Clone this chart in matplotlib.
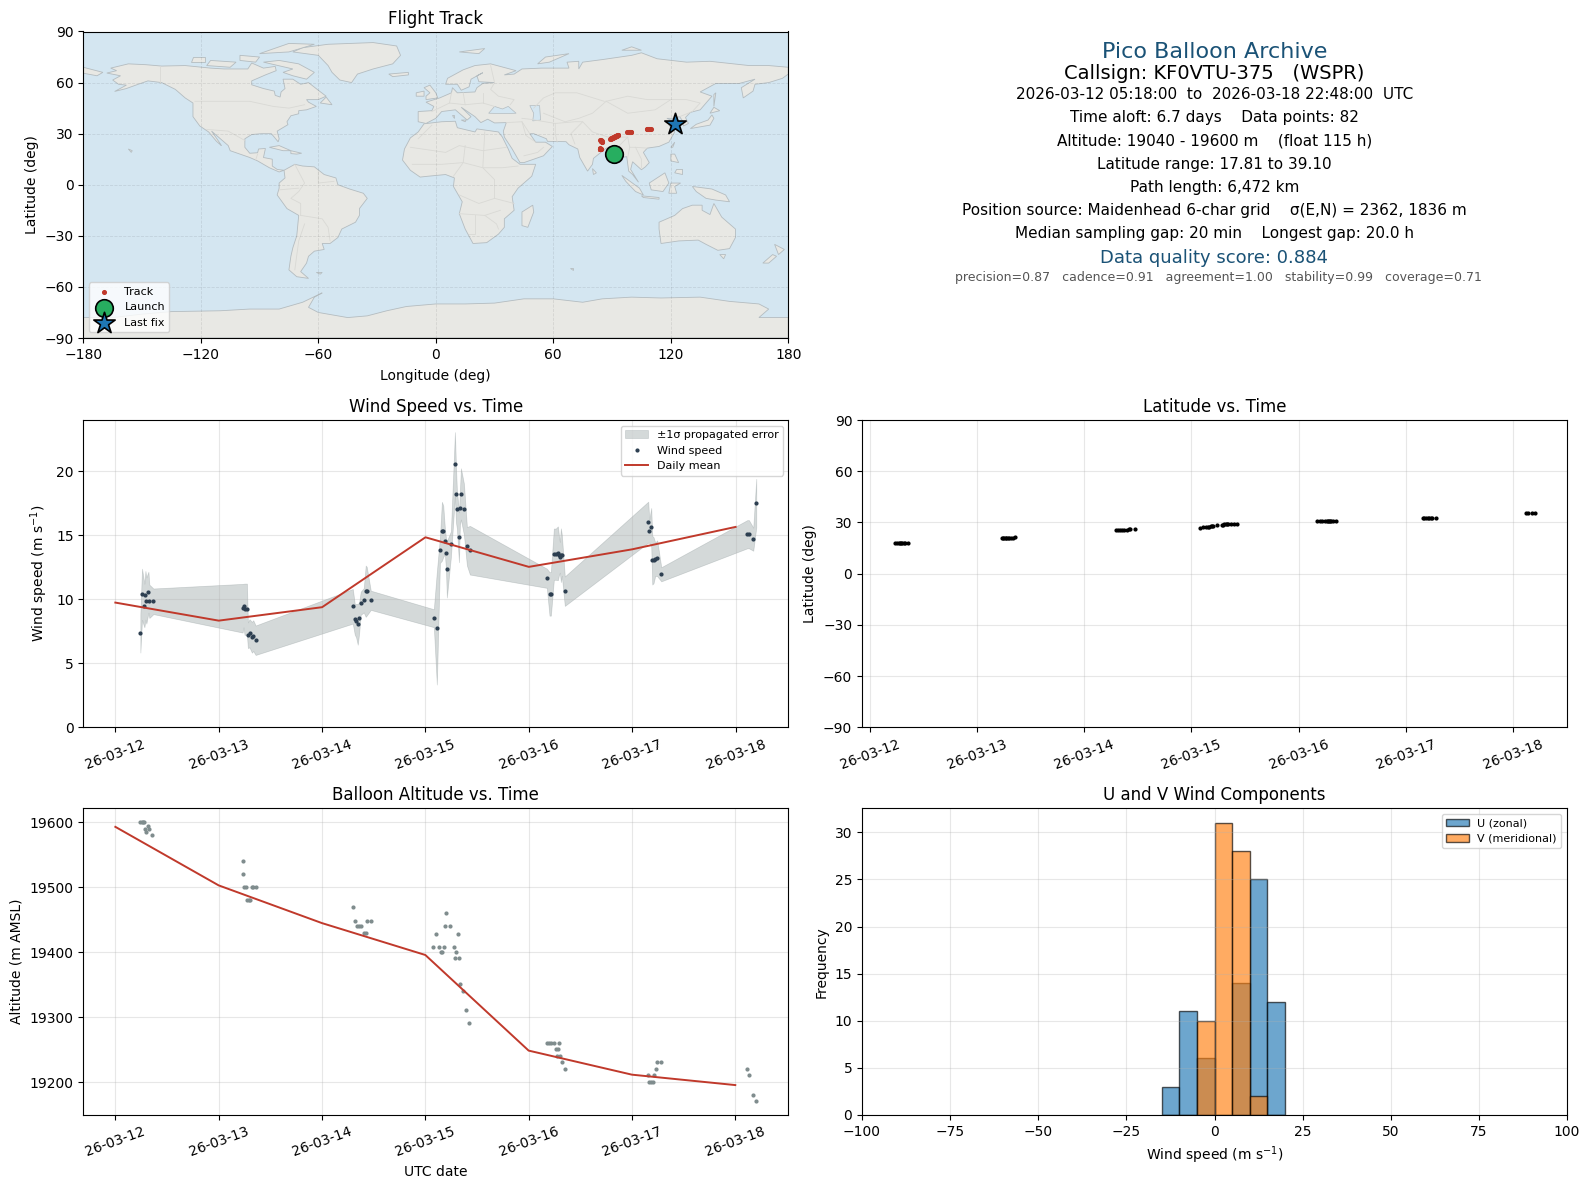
#!/usr/bin/env python
import datetime as dt
import matplotlib
matplotlib.use('Agg')
import matplotlib.pyplot as plt
import matplotlib.dates as mdates

# colours
navy = '#1a5276'
red = '#c0392b'
land_col = '#e8e8e4'
sea_col = '#d4e6f1'

# wind, days after 2026-03-12 00:00
wind_t = [.242,.258,.281,.291,.300,.320,.329,.368,
          1.231,1.240,1.250,1.273,1.282,1.298,1.321,1.334,1.357,
          2.297,2.316,2.329,2.345,2.358,2.374,2.403,2.422,2.432,2.471,
          3.081,3.110,3.140,3.159,3.172,3.188,3.198,3.207,3.246,3.285,3.295,3.304,3.324,3.333,3.343,3.372,3.401,3.430,
          4.174,4.200,4.213,4.242,4.261,4.281,4.290,4.300,4.310,4.319,4.348,
          5.155,5.165,5.184,5.194,5.206,5.223,5.242,5.281,
          6.113,6.129,6.171,6.200]
wind_speed = [7.34,10.39,9.51,10.31,9.90,10.55,9.84,9.84,
              9.30,9.51,9.22,9.22,7.19,7.34,7.03,7.16,6.80,
              9.45,8.44,8.33,8.05,8.52,9.69,9.92,10.63,10.63,9.92,
              8.52,7.74,13.83,15.31,15.31,14.53,13.59,12.34,14.30,20.55,18.20,17.03,14.84,17.11,18.23,17.03,14.14,13.83,
              11.64,10.42,10.42,13.52,13.52,13.59,13.44,13.28,13.44,13.44,10.63,
              16.02,15.31,15.63,13.05,13.05,13.13,13.20,11.95,
              15.08,15.08,14.69,17.50]
wind_sigma = [1.5,2.0,1.7,1.9,1.8,1.6,1.3,1.0,
              1.9,1.7,2.0,2.0,1.0,1.1,1.2,1.2,1.15,
              1.35,1.2,1.3,1.6,1.2,.9,.95,2.0,1.9,.75,
              .7,4.4,1.0,2.3,2.0,1.0,1.2,2.2,1.0,2.5,2.2,1.5,1.95,1.3,2.0,2.0,1.5,1.9,
              .75,1.7,1.7,2.0,2.0,2.1,1.6,1.2,2.1,1.6,1.15,
              1.6,.9,1.5,1.9,1.8,1.3,1.4,.55,
              1.1,1.1,.9,1.9]

day_t = [0,1,2,3,4,5,6]
wind_daily = [9.74,8.33,9.38,14.84,12.53,13.90,15.65]
alt_daily = [19593,19503,19445,19396,19249,19212,19196]

# altitude / position fixes
fix_t = [.242,.258,.271,.281,.291,.300,.320,.329,.358,
         1.231,1.240,1.250,1.269,1.273,1.289,1.302,1.318,1.337,1.357,
         2.297,2.316,2.335,2.355,2.374,2.403,2.422,2.432,2.471,
         3.078,3.107,3.136,3.155,3.165,3.184,3.194,3.203,3.242,3.281,3.291,3.300,3.320,3.329,3.339,3.368,3.397,3.426,
         4.174,4.194,4.213,4.242,4.262,4.271,4.281,4.291,4.300,4.320,4.349,
         5.155,5.165,5.184,5.203,5.213,5.233,5.242,5.281,
         6.116,6.136,6.174,6.203]
alt = [19600,19600,19600,19600,19589,19585,19595,19589,19580,
       19540,19520,19500,19500,19480,19480,19480,19500,19500,19500,
       19469,19449,19440,19440,19440,19430,19430,19449,19449,
       19409,19429,19409,19400,19400,19409,19440,19460,19440,19409,19391,19400,19429,19391,19351,19340,19311,19291,
       19260,19260,19260,19260,19251,19240,19251,19260,19240,19231,19220,
       19211,19200,19200,19200,19211,19220,19231,19231,
       19220,19211,19180,19172]
lat = [17.8,17.8,17.8,17.8,17.8,17.8,17.9,17.9,17.9,
       20.8,20.8,20.8,20.8,20.8,20.9,20.9,21.0,21.1,21.5,
       25.3,25.3,25.4,25.5,25.6,25.8,25.9,26.0,26.1,
       27.0,27.1,27.3,27.5,27.6,27.7,28.0,28.1,28.3,28.5,28.7,28.8,28.8,28.9,29.0,29.0,29.0,29.0,
       30.8,30.8,30.8,30.8,30.8,30.8,30.8,30.8,30.8,30.8,30.8,
       32.6,32.6,32.6,32.6,32.6,32.6,32.6,32.6,
       35.5,35.5,35.5,35.5]
lon = [90.8,90.6,90.4,90.2,90.0,89.8,89.5,89.2,89.0,
       84.4,84.2,84.1,84.0,83.9,83.9,83.8,83.8,83.7,83.6,
       85.0,84.9,84.7,84.6,84.5,84.4,84.3,84.2,84.1,
       89.2,89.4,89.7,90.0,90.2,90.4,90.7,91.0,91.3,91.6,91.8,92.0,92.2,92.4,92.6,92.8,93.0,93.2,
       97.8,98.0,98.2,98.4,98.6,98.8,99.0,99.2,99.4,99.6,99.8,
       107.6,107.9,108.2,108.5,108.8,109.1,109.4,109.7,
       121.5,121.9,122.2,122.4]
launch_lon, launch_lat = [90.8], [17.8]
last_lon, last_lat = [122.2], [35.7]

# histogram
bin_left = [-15,-10,-5,0,5,10,15]
u_count = [3,11,6,0,14,25,12]
v_count = [0,0,10,31,28,2,0]

# coastlines
north_america = [(-168,65.6),(-163,67),(-166,68.5),(-157,71),(-148,70.5),(-140,69.7),(-128,70),(-115,68.5),(-108,68),(-96,68),(-94,71.5),(-88,68.5),(-82,69.5),(-81.5,67),(-87,64.5),(-94,61),(-94,58.7),(-88,56.5),(-82.5,55),(-82,52.5),(-79.5,51.5),(-79,54.5),(-77,56.5),(-78,62),(-73,62),(-69,59),(-65,60),(-60,55.5),(-56,52),(-60,50),(-66,50),(-65,48.5),(-61,46),(-66,44),(-70,43.5),(-70,41.7),(-74,40.5),(-76,37),(-75.5,35.3),(-81,31.5),(-80,27),(-80.5,25.2),(-82.5,28),(-84,30),(-89,30),(-94,29.5),(-97.5,27),(-97.5,22),(-95,18.5),(-91,18.8),(-90.5,21),(-87,21.3),(-88,16),(-83.5,15),(-83.5,11),(-81,9),(-77.5,8.5),(-80,7.5),(-85,10),(-91,14),(-95,16),(-105,20),(-106,23),(-112.5,29.5),(-114.5,31.5),(-110,24),(-109.5,23),(-112,25.5),(-116,31),(-120.5,34.5),(-124,40),(-124,48),(-128,51),(-133,56),(-140,60),(-147,61),(-152,59),(-158,56.5),(-164,54.8),(-158,58.5),(-162,59),(-165,61.5),(-161,64),(-168,65.6)]
south_america = [(-77.5,8.5),(-72,12),(-68,11),(-62,10.5),(-57,6),(-51,4),(-50,0),(-44,-2.5),(-37,-5),(-35,-8),(-39,-14),(-39,-18),(-41,-22),(-48,-26),(-50,-31),(-54,-34.5),(-58,-34.5),(-57,-38),(-62,-39),(-65,-42),(-66,-46),(-69,-51),(-65,-55),(-71,-54),(-75,-50),(-74,-42),(-73,-37),(-71,-30),(-70,-18),(-76,-14),(-81,-6),(-80,-2),(-80,1),(-77,4),(-77.5,8.5)]
greenland = [(-73,78),(-68,80.5),(-55,82.5),(-32,83.5),(-20,81.5),(-18,76),(-22,71),(-32,68),(-40,65),(-43,60),(-49,61.5),(-53,66),(-55,70),(-60,76),(-73,78)]
africa = [(-6,35.8),(3,37),(10,37.3),(11,33.5),(20,31),(21,32.8),(32,31),(34,28),(37,21),(39,15.5),(43,12),(51,12),(49,5),(42,-2),(39,-7),(40,-15),(35,-20),(35,-25),(32,-29),(26,-34),(19,-34.5),(15,-26),(12,-17),(13.5,-10),(9,-1),(9.5,4),(5,6),(-4,5),(-8,4.5),(-13,8.5),(-17,14.5),(-16,21),(-13,27.5),(-9,31),(-6,35.8)]
eurasia = [(-9,37),(-9,43),(-2,43.5),(-1,46),(-5,48.5),(2,51),(8,54),(8.5,57),(11,54),(20,54.5),(21,57),(24,59.5),(30,60),(22,60.5),(21,64),(24,65.8),(18,62),(17,57.5),(13,55.5),(11,59),(5,59),(6,62.5),(14,67.5),(20,70),(28,71),(41,67),(35,64.5),(40,65),(44,68),(54,68.5),(68,68.5),(67,72),(73,72.5),(73,68),(75,72),(85,73.5),(100,76),(105,77.5),(113,74),(128,72),(140,72.5),(160,70),(170,70),(180,69),(180,65),(177,62.5),(170,60),(163,59),(162,55),(157,51),(156,57),(163,62),(155,59.5),(143,59.5),(135,54.5),(141,52),(135,44),(130,42.5),(127.5,39.5),(129,36),(126.5,34.5),(126,37.5),(124.5,40),(121.5,39),(118,39),(122,37),(119,35),(122,31),(119,25),(114,22.5),(108,21.5),(106,19),(109,13),(107,10.5),(105,8.8),(100.5,13.5),(99.5,9),(103.5,1.5),(100.5,6),(98.5,8),(97.5,16.5),(94.5,16),(94,19),(91,22.5),(87,21.5),(80.5,15.5),(80,12),(77.5,8),(73.5,16),(72.5,21),(68,23.5),(66.5,25.3),(57,25.5),(56.5,27),(50,30),(48,30),(51,25),(56,25),(59.5,22.5),(55,17),(45,13),(43,13),(39,21),(35,28),(34.5,31.5),(36,36.5),(30,36.3),(26.5,38.5),(23,36.5),(20,40),(13,45.5),(18,40),(16,38),(10,44),(3,43),(0,39),(-5,36),(-9,37)]
australia = [(114,-22),(122,-18),(126,-14),(131,-12),(136,-12),(136,-15),(140,-17.5),(142,-11),(146,-19),(153,-26),(153,-31),(150,-37.5),(144,-38.5),(138,-35),(134,-32.5),(124,-33),(115,-34.5),(114,-26),(114,-22)]
antarctica = [(-180,-78),(-165,-78),(-150,-76),(-135,-74.5),(-110,-74),(-95,-73),(-80,-73),(-68,-69),(-58,-63.5),(-62,-66),(-65,-72),(-60,-75),(-45,-78),(-35,-77),(-25,-74),(-15,-71.5),(0,-70),(15,-70),(30,-69.5),(45,-67),(60,-67),(75,-69),(85,-67),(100,-66),(115,-66.5),(135,-66),(150,-68.5),(165,-70),(170,-73),(165,-78),(180,-78),(180,-90),(-180,-90)]
islands = [
    [(44,-16),(49.5,-12),(50,-16),(47,-25),(44,-24)],
    [(-5,50),(1,51),(0,54),(-3,58.5),(-6,57),(-3,54),(-5,52)],
    [(-10,52),(-6,52),(-6,55),(-10,54)],
    [(-24,65),(-14,66),(-14,64.5),(-22,63.5)],
    [(12,78),(25,80),(22,77)],
    [(52,71),(56,75),(68,77),(58,72)],
    [(95,79),(105,79),(100,81)],
    [(130,33),(135,34),(140,35),(142,39),(141,41),(139,38),(133,35.5)],
    [(140,42),(145,43.5),(142,45.5)],
    [(142,46),(143,54),(142,53)],
    [(120,22),(122,25),(121,22)],
    [(120,18),(122,18),(124,13),(120,14)],
    [(122,7),(126,6),(126,9),(123,9)],
    [(95,5.5),(104,-2),(106,-6),(102,-4),(97,2)],
    [(105,-6.5),(114,-7.5),(114,-8.5),(106,-7.5)],
    [(109,1),(117,7),(119,1),(116,-4),(110,-3)],
    [(119,-5),(120,1),(125,1),(122,-1),(123,-5)],
    [(131,-1),(141,-2.5),(148,-6),(150,-10),(143,-9),(138,-8),(133,-4)],
    [(80,9.5),(82,7),(80.5,6)],
    [(173,-35),(178,-38),(175,-41),(174,-38)],
    [(172,-41),(174,-42),(170,-46),(167,-46)],
    [(145,-41),(148,-41),(147,-43.5)],
    [(-85,22),(-80,23),(-74,20),(-78,20)],
    [(-74,20),(-68.5,18.5),(-71,18),(-74,18.3)],
    [(-59,48),(-56,51.5),(-53,47)],
    [(-80,73),(-70,71),(-62,66),(-66,62),(-73,64),(-78,66),(-73,68),(-88,72)],
    [(-117,70),(-105,69),(-102,72),(-115,73)],
    [(-90,77),(-75,83),(-62,82.5),(-75,78)],
    [(-125,72),(-118,72),(-118,75),(-124,75)],
    [(-100,73),(-92,72),(-90,75),(-100,76)],
    [(-180,69),(-170,66),(-173,64),(-180,65.5)],
    [(68.5,-49),(70,-49),(70,-50)],
    [(-61,-51.5),(-58,-51.5),(-59,-52.5)],
    [(-157,21),(-155,20),(-155.5,19)],
    [(13,38),(15.5,38),(15,37)],
    [(8.5,41),(9.5,41),(9.5,39)],
]
inland_water = [
    [(27,42),(30,46),(34,44.5),(37,46),(41,42),(35,41.8)],
    [(48,46.5),(53,46.5),(53.5,38),(49.5,37.5),(50,42)],
]
borders = [
    [(-141,70),(-141,60)],
    [(-123,49),(-95,49),(-83,46),(-75,45),(-67,47)],
    [(-117,32.5),(-106,31.5),(-97.5,26)],
    [(-92,14.5),(-91,18)],
    [(-72,12),(-67,1),(-70,-4),(-74,-8),(-69,-11),(-69,-18)],
    [(-60,8),(-60,1),(-52,2)],
    [(-69,-18),(-58,-20),(-55,-25),(-54,-33)],
    [(-67,-23),(-70,-33),(-72,-50)],
    [(-80,-3),(-70,-2)],
    [(-9,27),(-2,35)],
    [(-13,22),(5,19),(12,23),(24,20),(36,22)],
    [(25,31),(24,10),(30,3),(30,-8),(22,-11),(12,-6)],
    [(-12,12),(3,12),(14,13),(24,10),(34,10),(42,11)],
    [(9,5),(14,13),(15,23)],
    [(30,-8),(40,-11)],
    [(12,-17),(25,-18),(33,-15)],
    [(20,-18),(20,-29),(17,-29)],
    [(25,-18),(31,-23),(32,-26)],
    [(-2,43),(7,48),(8,54)],
    [(7,48),(15,47),(24,48),(30,46)],
    [(14,54),(15,47)],
    [(24,54),(24,48)],
    [(28,70),(30,60),(28,56),(32,52),(40,50),(38,47)],
    [(36,36.5),(44,37),(48,30)],
    [(44,37),(46,29),(51,25)],
    [(45,17),(52,19),(55,22)],
    [(44,39),(48,38.5),(61,36),(61,30),(62,25)],
    [(61,36),(71,37),(75,37),(69,30),(71,24)],
    [(50,45),(55,51),(61,54),(72,54),(86,49)],
    [(55,42),(66,37),(73,39),(80,42),(87,49)],
    [(87,49),(98,42),(112,44),(120,50),(128,50),(135,48),(131,43)],
    [(87,49),(98,52),(108,50),(120,50)],
    [(75,37),(80,31),(88,28),(98,28),(99,22),(102,22),(108,21.5)],
    [(92,21),(98,28)],
    [(99,22),(98,16)],
    [(102,22),(105,15),(105,10)],
    [(124.5,40),(130,42.5)],
]
land_polygons = [north_america, south_america, greenland, africa, eurasia, australia, antarctica] + islands

stats_lines = [
    '2026-03-12 05:18:00  to  2026-03-18 22:48:00  UTC',
    'Time aloft: 6.7 days    Data points: 82',
    'Altitude: 19040 - 19600 m    (float 115 h)',
    'Latitude range: 17.81 to 39.10',
    'Path length: 6,472 km',
    'Position source: Maidenhead 6-char grid    σ(E,N) = 2362, 1836 m',
    'Median sampling gap: 20 min    Longest gap: 20.0 h',
]
stats_y = [.7945,.7205,.644,.567,.4915,.418,.343]

start = dt.datetime(2026, 3, 12)
def to_dates(days):
    return [start + dt.timedelta(days=d) for d in days]

def date_axis(ax):
    ax.xaxis.set_major_locator(mdates.DayLocator())
    ax.xaxis.set_major_formatter(mdates.DateFormatter('%y-%m-%d'))
    ax.tick_params(axis='x', labelrotation=20)
    ax.grid(alpha=.3)

fig = plt.figure(figsize=(15.89, 11.89), dpi=100)
W, H = 1589., 1189.
def box(l, t, r, b):
    return fig.add_axes([l/W, 1-b/H, (r-l)/W, (b-t)/H])

# map
ax = box(83.3, 31.5, 788.3, 338)
ax.set_facecolor(sea_col)
for p in land_polygons:
    ax.fill([q[0] for q in p], [q[1] for q in p], fc=land_col, ec='#b4bcc0', lw=.6, zorder=1)
for p in inland_water:
    ax.fill([q[0] for q in p], [q[1] for q in p], fc=sea_col, ec='#b4bcc0', lw=.5, zorder=1.1)
for p in borders:
    ax.plot([q[0] for q in p], [q[1] for q in p], color='#d9d9d5', lw=.6, zorder=1.2)
ax.scatter(lon, lat, s=7, color=red, zorder=3, label='Track')
ax.scatter(launch_lon, launch_lat, s=160, color='#27ae60', edgecolor='k', lw=1.2, zorder=4, label='Launch')
ax.scatter(last_lon, last_lat, s=260, marker='*', color='#1f77b4', edgecolor='k', lw=1.2, zorder=5, label='Last fix')
ax.set_xlim(-180, 180)
ax.set_ylim(-90, 90)
ax.set_xticks(range(-180, 181, 60))
ax.set_yticks(range(-90, 91, 30))
ax.grid(alpha=.09, ls='--', lw=.6, color='k', zorder=2)
ax.set_axisbelow(False)
ax.set_xlabel('Longitude (deg)', labelpad=5)
ax.set_ylabel('Latitude (deg)')
ax.set_title('Flight Track', y=.997)
ax.legend(loc='lower left', fontsize=8)

# summary text
ax = box(862, 31.5, 1567, 338.5)
ax.axis('off')
ax.text(.5, .932, 'Pico Balloon Archive', ha='center', va='center', fontsize=16, color=navy, transform=ax.transAxes)
ax.text(.5, .862, 'Callsign: KF0VTU-375   (WSPR)', ha='center', va='center', fontsize=14, transform=ax.transAxes)
for s, y in zip(stats_lines, stats_y):
    ax.text(.5, y, s, ha='center', va='center', fontsize=11, transform=ax.transAxes)
ax.text(.5, .2635, 'Data quality score: 0.884', ha='center', va='center', fontsize=13, color=navy, transform=ax.transAxes)
ax.text(.506, .2, 'precision=0.87   cadence=0.91   agreement=1.00   stability=0.99   coverage=0.71',
        ha='center', va='center', fontsize=9, color='#555555', transform=ax.transAxes)

# wind speed
ax = box(83.3, 420, 788.3, 727.3)
lower = [a-b for a, b in zip(wind_speed, wind_sigma)]
upper = [a+b for a, b in zip(wind_speed, wind_sigma)]
ax.fill_between(to_dates(wind_t), lower, upper, color='#7f8c8d', alpha=.33, lw=.5, label='±1σ propagated error')
ax.plot(to_dates(wind_t), wind_speed, '.', ms=4, color='#2c3e50', label='Wind speed')
ax.plot(to_dates(day_t), wind_daily, color=red, lw=1.4, label='Daily mean')
ax.set_ylim(0, 24)
ax.set_ylabel(r'Wind speed (m s$^{-1}$)')
ax.set_title('Wind Speed vs. Time')
ax.legend(loc='upper right', fontsize=8)
date_axis(ax)

# latitude
ax = box(862, 420, 1567, 727.3)
ax.plot(to_dates(fix_t), lat, '.', ms=4, color='k')
ax.set_ylim(-90, 90)
ax.set_yticks(range(-90, 91, 30))
ax.set_ylabel('Latitude (deg)')
ax.set_title('Latitude vs. Time')
date_axis(ax)
ax.set_xlim(to_dates([-.07, 6.5]))

# altitude
ax = box(83.3, 808.3, 788.3, 1115)
ax.plot(to_dates(fix_t), alt, '.', ms=4, color='#7f8c8d')
ax.plot(to_dates(day_t), alt_daily, color=red, lw=1.4)
ax.set_ylim(19150, 19621.5)
ax.set_xlabel('UTC date')
ax.set_ylabel('Altitude (m AMSL)')
ax.set_title('Balloon Altitude vs. Time')
date_axis(ax)

# wind components
ax = box(862, 808.3, 1567, 1115)
ax.bar(bin_left, u_count, width=5, align='edge', color='#1f77b4', alpha=.65, ec='k', lw=1, label='U (zonal)')
ax.bar(bin_left, v_count, width=5, align='edge', color='#ff7f0e', alpha=.65, ec='k', lw=1, label='V (meridional)')
ax.set_xlim(-100, 100)
ax.set_xlabel(r'Wind speed (m s$^{-1}$)')
ax.set_ylabel('Frequency')
ax.set_title('U and V Wind Components')
ax.legend(loc='upper right', fontsize=8)
ax.grid(alpha=.3)

fig.savefig('out.png', dpi=100)
